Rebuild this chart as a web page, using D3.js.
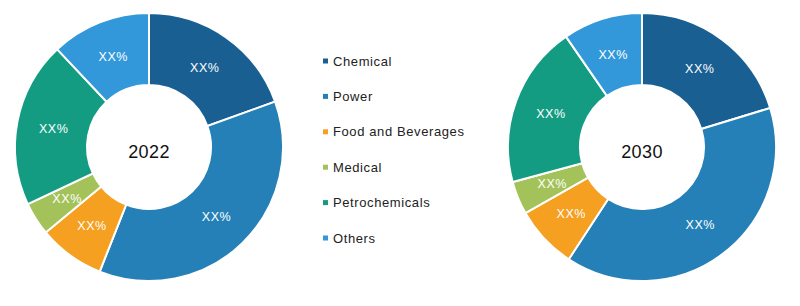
<!DOCTYPE html>
<html>
<head>
<meta charset="utf-8">
<script src="https://cdn.jsdelivr.net/npm/d3@7"></script>
<style>
  body { margin: 0; background: #fff; }
  text { font-family: "Liberation Sans", Arial, sans-serif; }
</style>
</head>
<body>
<svg id="chart"></svg>
<script>
// data (shares in %)
const categories = ["Chemical", "Power", "Food and Beverages", "Medical", "Petrochemicals", "Others"];
const colors = ["#1a5f91", "#2480b6", "#f5a020", "#a3c25a", "#149c83", "#3398da"];
const years = ["2022", "2030"];
const values2022 = [19.5, 36.5, 8, 4, 20, 12];
const values2030 = [20.3, 38.9, 7.6, 4, 19.6, 9.6];
const sliceLabel = "XX%";

const width = 800, height = 306;

const svg = d3.select("#chart")
  .attr("width", width)
  .attr("height", height);

const color = d3.scaleOrdinal()
  .domain(categories)
  .range(colors);

const pie = d3.pie().sort(null).value(d => d.value);
const outerR = 134, innerR = 62;
const arc = d3.arc().innerRadius(innerR).outerRadius(outerR);
const labelArc = d3.arc().innerRadius(97).outerRadius(97);

function drawDonut(cx, cy, year, values){
  const data = categories.map((c, i) => ({ name: c, value: values[i] }));
  const g = svg.append("g").attr("transform", `translate(${cx},${cy})`);

  g.selectAll("path")
    .data(pie(data))
    .enter().append("path")
    .attr("d", arc)
    .attr("fill", d => color(d.data.name))
    .attr("stroke", "#fff")
    .attr("stroke-width", 2);

  g.selectAll(".slice-label")
    .data(pie(data))
    .enter().append("text")
    .attr("class", "slice-label")
    .attr("transform", d => `translate(${labelArc.centroid(d)})`)
    .attr("text-anchor", "middle")
    .attr("dy", "0.35em")
    .attr("fill", "#fff")
    .attr("font-size", 12.5)
    .attr("letter-spacing", 0.6)
    .text(sliceLabel);

  g.append("text")
    .attr("text-anchor", "middle")
    .attr("y", 11)
    .attr("font-size", 18)
    .attr("letter-spacing", 0.4)
    .attr("fill", "#111")
    .text(year);
}

drawDonut(149, 147, years[0], values2022);
drawDonut(642, 147, years[1], values2030);

// legend
const legendY = d3.scalePoint()
  .domain(categories)
  .range([61, 238]);

const legend = svg.append("g");
const items = legend.selectAll("g")
  .data(categories)
  .enter().append("g")
  .attr("transform", d => `translate(323,${legendY(d)})`);

items.append("rect")
  .attr("x", 0)
  .attr("y", -2.5)
  .attr("width", 5)
  .attr("height", 5)
  .attr("fill", d => color(d));

items.append("text")
  .attr("x", 10)
  .attr("dy", "0.35em")
  .attr("font-size", 13)
  .attr("letter-spacing", 0.6)
  .attr("fill", "#222")
  .text(d => d);
</script>
</body>
</html>
